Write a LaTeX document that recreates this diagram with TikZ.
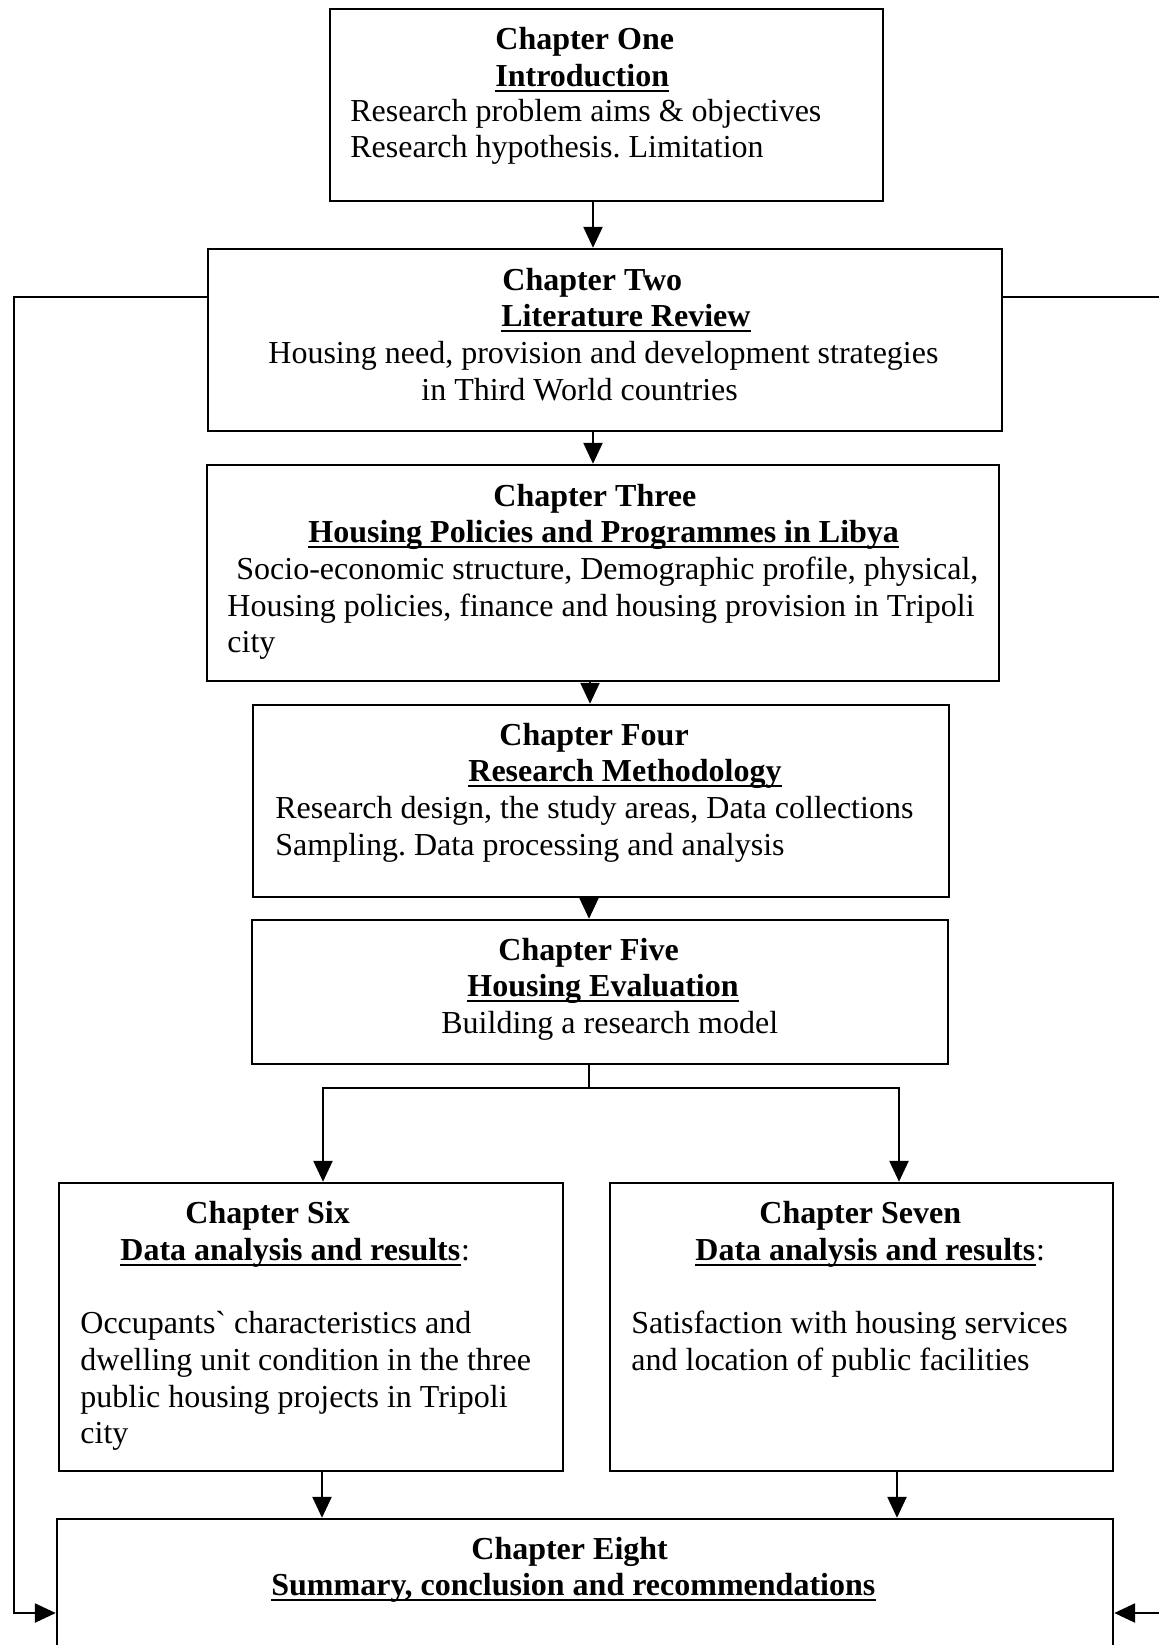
\documentclass[tikz,border=0pt]{standalone}
\usepackage{fontspec}
\setmainfont{Liberation Serif}
\usetikzlibrary{arrows.meta,fit}
\frenchspacing
\tikzset{
  box/.style={draw, line width=1.2pt, rectangle, inner sep=0pt},
  body/.style={anchor=base west, inner sep=0pt, font=\fontsize{16}{19}\selectfont},
  head/.style={anchor=base west, inner sep=0pt, font=\fontsize{16}{19}\selectfont\bfseries},
  link/.style={line width=1.2pt},
  stem/.style={line width=0.8pt},
  arr/.style={link, -{Triangle[length=10.5pt,width=9.5pt]}},
  uline/.style={line width=1.1pt}
}
% underline a heading node just below its baseline
\newcommand\ulnode[1]{\draw[uline] ([yshift=-2.6pt]#1.base west) -- ([yshift=-2.6pt]#1.base east);}
\begin{document}
\begin{tikzpicture}[x=0.5pt,y=-0.5pt]
\useasboundingbox (0,0) rectangle (1159,1645);
\clip (0,0) rectangle (1159,1645);

% chapter boxes
\node[box, fit={(330,9) (883,201)}] (b1) {};
\node[box, fit={(208,249) (1002,431)}] (b2) {};
\node[box, fit={(207,465) (999,681)}] (b3) {};
\node[box, fit={(253,705) (949,897)}] (b4) {};
\node[box, fit={(252,920) (948,1064)}] (b5) {};
\node[box, fit={(59,1183) (563,1471)}] (b6) {};
\node[box, fit={(610,1183) (1113,1471)}] (b7) {};
\node[box, fit={(57,1519) (1113,1760)}] (b8) {};

% Chapter One
\node[head] (b1h) at (495,49) {Chapter One};
\node[head] (b1u) at (495,86) {Introduction};
\node[body] (b1a) at (350,121) {Research problem aims \& objectives};
\node[body] (b1b) at (350,157) {Research hypothesis. Limitation};
\ulnode{b1u}

% Chapter Two
\node[head] (b2h) at (502,290) {Chapter Two};
\node[head] (b2u) at (501,326) {Literature Review};
\node[body] (b2a) at (268,363) {Housing need, provision and development strategies};
\node[body] (b2b) at (421,400) {in Third World countries};
\ulnode{b2u}

% Chapter Three
\node[head] (b3h) at (493,506) {Chapter Three};
\node[head] (b3u) at (308,542) {Housing Policies and Programmes in Libya};
\node[body] (b3a) at (236,579) {Socio-economic structure, Demographic profile, physical,};
\node[body] (b3b) at (227,616) {Housing policies, finance and housing provision in Tripoli};
\node[body] (b3c) at (227,652) {city};
\ulnode{b3u}

% Chapter Four
\node[head] (b4h) at (499,745) {Chapter Four};
\node[head] (b4u) at (468,781) {Research Methodology};
\node[body] (b4a) at (275,818) {Research design, the study areas, Data collections};
\node[body] (b4b) at (275,855) {Sampling. Data processing and analysis};
\ulnode{b4u}

% Chapter Five
\node[head] (b5h) at (498,960) {Chapter Five};
\node[head] (b5u) at (467,996) {Housing Evaluation};
\node[body] (b5a) at (441,1033) {Building a research model};
\ulnode{b5u}

% Chapter Six
\node[head] (b6h) at (185,1223) {Chapter Six};
\node[head] (b6u) at (120,1260) {Data analysis and results};
\node[body, anchor=base west] (b6c) at (b6u.base east) {:};
\node[body] (b6a) at (80,1333) {Occupants\textasciigrave{} characteristics and};
\node[body] (b6b) at (80,1370) {dwelling unit condition in the three};
\node[body] (b6d) at (80,1407) {public housing projects in Tripoli};
\node[body] (b6e) at (80,1443) {city};
\ulnode{b6u}

% Chapter Seven
\node[head] (b7h) at (759,1223) {Chapter Seven};
\node[head] (b7u) at (695,1260) {Data analysis and results};
\node[body, anchor=base west] (b7c) at (b7u.base east) {:};
\node[body] (b7a) at (631,1333) {Satisfaction with housing services};
\node[body] (b7b) at (631,1370) {and location of public facilities};
\ulnode{b7u}

% Chapter Eight
\node[head] (b8h) at (471,1559) {Chapter Eight};
\node[head] (b8u) at (271,1595) {Summary, conclusion and recommendations};
\ulnode{b8u}

% main sequence
\draw[arr] (b1.south -| 593,0) -- (b2.north -| 593,0);
\draw[arr] (b2.south -| 593,0) -- (b3.north -| 593,0);
\draw[arr] (b3.south -| 590,0) -- (b4.north -| 590,0);
\draw[arr] (b4.south -| 589,0) -- (b5.north -| 589,0);

% branch to chapters six and seven
\coordinate (split) at (589,1088);
\draw[stem] (b5.south -| split) -- (split);
\draw[arr] (split) -| (b6.north -| 323,0);
\draw[arr] (split) -| (b7.north -| 899,0);

% into chapter eight
\draw[arr] (b6.south -| 322,0) -- (b8.north -| 322,0);
\draw[arr] (b7.south -| 897,0) -- (b8.north -| 897,0);

% feedback lines from chapter two
\draw[arr] (b2.west |- 0,297) -- (14,297) -- (14,1613) -- (b8.west |- 0,1613);
\draw[arr] (b2.east |- 0,297) -- (1175,297) -- (1175,1613) -- (b8.east |- 0,1613);
\end{tikzpicture}
\end{document}
